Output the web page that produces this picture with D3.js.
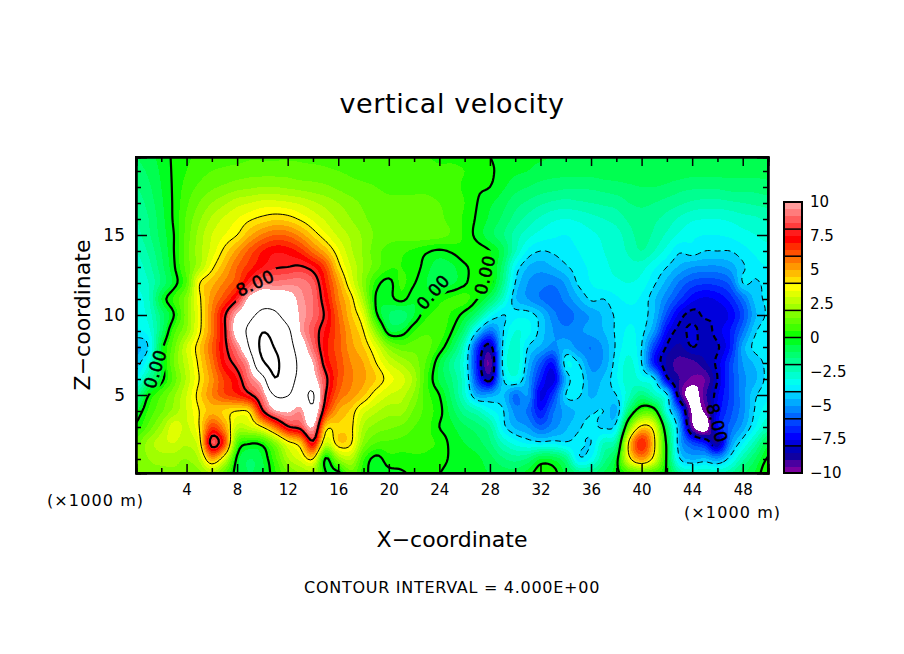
<!DOCTYPE html>
<html>
<head>
<meta charset="utf-8">
<script src="https://cdn.jsdelivr.net/npm/d3@7"></script>
<style>
  body { margin: 0; background: #fff; }
  text { font-family: "DejaVu Sans", sans-serif; fill: #000; }
</style>
</head>
<body>
<div id="chart"></div>
<script>
// vertical velocity, one row per km of height, x = 0..50 km
const z20 = [-1.0,-0.7,-0.3,0.1,0.4,0.6,0.7,0.8,0.8,0.9, 0.9,0.9,0.9,0.9,0.8,0.8,0.7,0.6,0.5,0.5, 0.5,0.5,0.5,0.5,0.4,0.4,0.3,0.2,0.0,-0.2, -0.3,-0.4,-0.4,-0.5,-0.5,-0.5,-0.5,-0.5,-0.5,-0.5, -0.5,-0.5,-0.5,-0.5,-0.5,-0.5,-0.5,-0.5,-0.5,-0.5,-0.5];
const z19 = [-1.2,-0.9,-0.4,0.1,0.5,0.8,1.0,1.1,1.2,1.3, 1.3,1.3,1.3,1.2,1.2,1.1,1.0,0.9,0.8,0.8, 0.7,0.7,0.7,0.7,0.6,0.6,0.5,0.3,0.1,-0.2, -0.4,-0.5,-0.7,-0.8,-0.8,-0.8,-0.8,-0.7,-0.7,-0.6, -0.6,-0.6,-0.7,-0.7,-0.8,-0.8,-0.8,-0.8,-0.8,-0.8,-0.8];
const z18 = [-1.5,-1.1,-0.5,0.1,0.7,1.1,1.4,1.6,1.8,1.9, 2.0,2.0,1.9,1.8,1.7,1.6,1.4,1.2,1.1,1.0, 0.9,0.9,0.9,0.9,0.8,0.7,0.4,0.1,0.0,-0.4, -0.8,-1.0,-1.2,-1.3,-1.4,-1.4,-1.4,-1.3,-1.2,-1.1, -1.0,-1.0,-1.1,-1.3,-1.4,-1.4,-1.4,-1.3,-1.3,-1.3,-1.2];
const z17 = [-1.8,-1.3,-0.6,0.1,0.9,1.5,2.0,2.4,2.8,3.0, 3.2,3.2,3.1,2.9,2.6,2.3,2.0,1.7,1.4,1.2, 1.1,1.1,1.1,1.1,1.0,0.8,0.5,0.0,-0.4,-0.8, -1.3,-1.6,-1.9,-2.1,-2.2,-2.1,-2.0,-1.9,-1.8,-1.5, -1.4,-1.5,-1.7,-1.9,-2.1,-2.2,-2.2,-2.1,-2.0,-1.9,-1.8];
const z16 = [-2.0,-1.5,-0.7,0.1,1.1,1.9,2.6,3.1,3.5,3.9, 4.2,4.4,4.3,3.9,3.4,2.9,2.4,2.0,1.6,1.3, 1.2,1.2,1.2,1.2,1.1,0.8,0.4,-0.1,-0.6,-1.1, -1.7,-2.2,-2.6,-2.9,-3.0,-2.9,-2.7,-2.5,-2.3,-1.9, -1.7,-1.9,-2.2,-2.6,-2.9,-3.0,-3.0,-2.9,-2.7,-2.6,-2.4];
const z15 = [-2.2,-1.6,-0.8,0.0,1.2,2.2,3.0,3.5,4.0,4.9, 5.6,6.0,5.9,5.3,4.4,3.6,2.9,2.4,1.9,1.4, 1.2,1.2,1.3,1.3,1.2,0.9,0.4,-0.2,-0.8,-1.4, -2.2,-2.8,-3.2,-3.4,-3.5,-3.3,-3.1,-2.9,-2.7,-2.2, -1.8,-2.1,-2.6,-3.1,-3.4,-3.5,-3.5,-3.4,-3.2,-3.0,-2.8];
const z14 = [-2.5,-1.9,-1.0,0.0,1.3,2.3,3.2,4.2,5.2,6.2, 7.0,7.4,7.3,6.8,5.8,4.8,3.6,2.6,1.9,1.2, 0.8,0.6,0.4,0.1,-0.1,0.1,0.4,0.3,0.0,-0.8, -2.4,-3.6,-4.0,-3.9,-3.7,-3.5,-3.2,-3.0,-2.8,-2.4, -2.0,-2.5,-3.2,-3.9,-3.7,-4.0,-4.0,-4.0,-3.7,-3.4,-3.2];
const z13 = [-2.8,-2.2,-1.2,-0.1,1.2,2.4,3.8,4.9,6.0,6.8, 7.5,7.9,8.0,8.1,7.6,6.4,4.3,3.0,2.0,1.2, 0.6,0.5,0.3,-0.3,-0.8,-0.6,-0.1,0.2,0.1,-1.2, -3.5,-4.5,-4.8,-4.5,-4.1,-3.7,-3.4,-3.1,-2.9,-2.7, -2.8,-3.4,-4.0,-4.6,-5.0,-5.1,-5.1,-4.8,-4.1,-3.7,-3.5];
const z12 = [-3.0,-2.5,-1.4,-0.3,1.0,3.9,4.8,5.6,6.4,8.0, 9.2,9.2,9.3,9.3,8.7,7.0,5.2,3.4,1.8,0.3, -0.2,0.6,0.05,-0.5,-0.8,-0.6,-0.1,0.4,0.2,-1.6, -4.0,-5.0,-5.3,-5.4,-4.9,-3.9,-3.5,-3.2,-3.1,-3.0, -3.2,-3.9,-4.7,-5.6,-6.2,-6.4,-6.3,-5.8,-4.0,-4.1,-3.8];
const z11 = [-3.2,-2.6,-0.5,0.6,1.8,3.8,5.3,6.4,7.9,10.4, 11.2,11.0,10.6,9.7,9.0,7.4,5.6,4.3,2.3,-0.1, -0.2,0.2,-0.4,-0.3,0.3,0.6,0.7,0.0,-1.0,-2.6, -4.4,-5.0,-5.5,-5.8,-5.3,-4.6,-3.9,-4.0,-3.6,-3.4, -3.6,-4.4,-5.4,-6.4,-7.3,-7.6,-7.4,-6.8,-5.6,-4.3,-3.9];
const z10 = [-3.4,-2.8,-1.3,0.0,1.8,3.7,5.6,7.8,10.2,11.4, 12.6,12.4,11.0,9.9,9.0,7.8,6.0,4.6,3.3,0.2, -1.0,-1.3,-0.5,0.4,0.7,0.4,-0.3,-1.4,-3.2,-4.0, -3.7,-3.7,-4.3,-5.3,-5.8,-5.3,-4.9,-4.4,-3.9,-3.6, -3.7,-4.5,-6.2,-7.7,-8.2,-7.9,-7.9,-7.4,-6.2,-4.6,-3.9];
const z9 = [-3.6,-3.2,-1.2,0.8,2.0,3.8,5.6,7.8,10.8,12.6, 15.8,14.5,12.5,10.0,8.6,7.4,6.2,5.0,4.0,1.8, -0.4,-0.4,0.5,0.9,0.8,0.0,-1.4,-4.0,-5.6,-4.1, -3.0,-3.3,-4.2,-5.0,-5.3,-5.1,-4.8,-4.5,-3.9,-3.4, -3.8,-5.0,-7.3,-8.2,-7.8,-8.3,-7.7,-7.0,-5.6,-4.1,-3.7];
const z8 = [-4.6,-3.9,-0.4,1.3,3.0,4.4,6.0,7.7,9.4,12.2, 16.8,15.8,13.0,11.0,9.0,7.2,6.2,5.2,4.5,3.3, 1.8,1.2,1.3,1.2,0.4,-0.8,-2.8,-6.5,-8.4,-4.0, -2.7,-4.0,-4.6,-5.2,-4.6,-5.2,-5.5,-4.9,-3.9,-3.2, -4.0,-6.4,-8.1,-8.6,-8.0,-8.3,-8.1,-7.0,-4.8,-3.8,-3.7];
const z7 = [-4.3,-3.0,-0.4,1.5,2.8,4.2,5.7,7.4,8.4,10.2, 15.4,16.8,13.5,11.5,10.0,7.5,6.4,5.5,5.0,4.0, 3.0,2.4,1.8,0.9,-0.5,-1.8,-3.2,-7.0,-9.5,-3.9, -2.6,-4.4,-6.0,-7.0,-3.6,-4.0,-5.2,-4.9,-3.7,-2.8, -4.0,-7.0,-8.6,-9.2,-9.2,-8.6,-7.8,-6.4,-5.0,-4.4,-3.8];
const z6 = [-3.5,-1.8,-0.3,1.2,2.6,4.0,5.3,6.6,7.5,9.2, 11.0,15.8,13.0,11.5,10.6,8.3,6.4,5.6,5.1,4.5, 3.7,3.2,2.3,0.6,-0.6,-1.5,-3.0,-6.5,-8.4,-4.2, -3.2,-4.8,-6.8,-7.8,-4.6,-3.6,-4.8,-4.4,-3.6,-2.6, -3.2,-3.9,-7.7,-9.0,-9.6,-9.5,-8.0,-6.4,-5.2,-4.6,-3.8];
const z5 = [-1.8,0.0,1.0,1.9,3.0,4.3,5.5,6.4,6.9,7.8, 9.3,12.2,12.1,11.0,12.2,8.0,6.0,5.3,4.6,3.6, 3.0,2.7,1.9,0.7,0.0,-1.2,-2.8,-4.8,-4.8,-4.4, -5.6,-5.0,-7.6,-6.5,-4.0,-3.9,-4.6,-4.2,-4.0,-2.6, -1.5,-2.5,-3.8,-8.8,-10.6,-9.2,-7.6,-6.4,-5.2,-4.1,-3.6];
const z4 = [-0.5,0.6,1.4,2.2,3.0,4.0,4.8,4.4,4.0,4.3, 7.8,9.8,10.2,9.6,11.5,7.0,5.0,4.4,3.2,2.6, 2.2,2.2,1.4,0.8,0.2,-0.8,-1.8,-2.4,-3.3,-3.9, -5.2,-5.6,-7.0,-5.6,-4.8,-4.4,-4.1,-4.0,-4.6,-1.2, 0.8,0.5,-3.2,-6.0,-10.2,-9.8,-7.4,-6.2,-5.2,-3.9,-3.2];
const z3 = [0.2,1.2,2.2,3.3,2.9,4.0,6.5,5.2,2.8,3.0, 4.0,5.8,7.8,8.4,10.0,4.5,4.4,4.2,2.4,1.8, 1.6,1.4,1.0,0.7,0.0,-0.4,-0.9,-1.3,-1.9,-3.7, -4.6,-5.0,-5.8,-5.2,-4.6,-4.1,-3.8,-4.1,-3.6,1.5, 4.3,3.4,-1.2,-4.8,-9.6,-10.8,-7.2,-5.8,-4.8,-3.5,-2.4];
const z2 = [1.3,2.2,2.8,3.0,2.6,3.5,8.5,6.5,1.0,0.1, 0.3,1.8,3.6,4.6,7.6,3.0,4.4,4.1,1.8,1.0, 0.9,0.8,0.7,0.6,0.4,-0.2,-0.5,-0.8,-1.4,-2.5, -3.2,-3.6,-3.8,-3.7,-3.9,-3.8,-4.0,-2.5,-1.8,4.2, 7.0,4.2,-0.3,-4.6,-6.2,-7.0,-8.6,-5.2,-3.6,-2.2,-0.7];
const z1 = [1.6,2.0,2.2,2.2,2.0,2.6,5.0,3.2,-0.2,-1.0, -0.5,0.8,2.4,3.2,4.0,-0.1,2.0,2.6,0.6,-0.2, 0.3,0.3,0.4,0.4,0.2,-0.1,-0.3,-0.4,-0.8,-1.4, -1.7,-1.4,-0.5,-0.6,-1.5,-3.8,-3.4,-1.8,-0.4,3.6, 5.2,3.5,-0.2,-3.9,-4.6,-4.4,-4.9,-3.7,-2.2,-1.0,0.1];
const z0 = [1.5,1.8,1.8,1.9,1.8,1.8,2.2,1.0,-0.4,-1.0, -0.6,0.4,1.4,1.9,2.0,0.1,-0.4,1.2,0.2,-0.2, -0.2,-0.1,0.1,0.2,0.0,-0.2,-0.3,-0.4,-0.5,-0.7, -0.7,-0.2,0.4,0.3,-0.6,-1.4,-1.5,-0.9,-0.2,0.4, 0.8,0.4,-0.1,-1.9,-2.4,-2.4,-2.4,-2.0,-1.0,-0.4,0.6];

const rows = [z20, z19, z18, z17, z16, z15, z14, z13, z12, z11, z10, z9, z8, z7, z6, z5, z4, z3, z2, z1, z0];

// one swatch per 0.5, bottom of the scale first
const swatches = [
  "#7a00a0","#4a00a0","#1000a0","#0000bb",
  "#0000dd","#0000ff","#0022ff","#0044ff",
  "#0066ff","#0088ff","#00aaff","#00ccff",
  "#00f0ff","#00ffef","#00ffd0","#00ffb0",
  "#00ff90","#00ff70","#00ff50","#00ff20",
  "#10ff00","#40ff00","#60ff00","#80ff00",
  "#a0ff00","#c0ff00","#e0ff00","#ffff00",
  "#ffe000","#ffbc00","#ff9800","#ff7400",
  "#ff5000","#ff2c00","#ff0000","#ff1c1c",
  "#ff3c3c","#ff5c5c","#ff7c7c","#ff9c9c"
];
const contourLevels = [-8, -4, 0, 4, 8, 12, 16];
const thickLevels = [-8, 0, 8, 16];
const xMajor = [4, 8, 12, 16, 20, 24, 28, 32, 36, 40, 44, 48];
const xMinor = [2, 6, 10, 14, 18, 22, 26, 30, 34, 38, 42, 46];
const zMajor = [5, 10, 15];
const zMinor = [1, 2, 3, 4, 6, 7, 8, 9, 11, 12, 13, 14, 16, 17, 18, 19];
const barTicks = [-10, -7.5, -5, -2.5, 0, 2.5, 5, 7.5, 10];
const lineLabels = [
  { text: "0.00", x: 155, y: 369, angle: -72 },
  { text: "8.00", x: 255, y: 283, angle: -25 },
  { text: "0.00", x: 433, y: 292, angle: -48 },
  { text: "0.00", x: 485, y: 275, angle: -76 },
  { text: "8.00", x: 717, y: 423, angle: 75 }
];

const width = 904;
const height = 654;
const plot = { left: 136, right: 768, top: 157, bottom: 473 };

const svg = d3.select("#chart").append("svg")
  .attr("width", width)
  .attr("height", height)
  .style("display", "block");

const x = d3.scaleLinear().domain([0, 50]).range([plot.left, plot.right]);
const z = d3.scaleLinear().domain([0.125, 19.875]).range([plot.bottom, plot.top]);

// catmull-rom resample of the rows, only so the contour lines come out round
const fine = 5;
function spline(p0, p1, p2, p3, t) {
  return 0.5 * (2 * p1 + (p2 - p0) * t + (2 * p0 - 5 * p1 + 4 * p2 - p3) * t * t + (3 * p1 - p0 - 3 * p2 + p3) * t * t * t);
}
function resample(line) {
  const out = [];
  for (let i = 0; i < line.length - 1; i++) {
    const p0 = line[Math.max(i - 1, 0)], p1 = line[i], p2 = line[i + 1], p3 = line[Math.min(i + 2, line.length - 1)];
    for (let k = 0; k < fine; k++) out.push(spline(p0, p1, p2, p3, k / fine));
  }
  out.push(line[line.length - 1]);
  return out;
}
const wide = rows.map(resample);
const nx = wide[0].length;
const columns = d3.range(nx).map(i => resample(wide.map(r => r[i])));
const ny = columns[0].length;
const grid = [];
for (let j = 0; j < ny; j++) for (let i = 0; i < nx; i++) grid.push(columns[i][j]);

// d3.contours puts samples at cell centres, so pull back by half a cell
const toPixels = d3.geoTransform({
  point(px, py) {
    this.stream.point(x((px - 0.5) / fine), z(20 - (py - 0.5) / fine));
  }
});
const path = d3.geoPath(toPixels);
const contours = d3.contours().size([nx, ny]);

const defs = svg.append("defs");
defs.append("clipPath").attr("id", "plot-clip").append("rect")
  .attr("x", plot.left).attr("y", plot.top)
  .attr("width", plot.right - plot.left).attr("height", plot.bottom - plot.top);

const mask = defs.append("mask").attr("id", "label-gaps")
  .attr("maskUnits", "userSpaceOnUse")
  .attr("x", 0).attr("y", 0).attr("width", width).attr("height", height);
mask.append("rect").attr("width", width).attr("height", height).attr("fill", "#fff");
mask.selectAll("rect.gap").data(lineLabels).join("rect")
  .attr("class", "gap")
  .attr("x", -25).attr("y", -10).attr("width", 50).attr("height", 20)
  .attr("fill", "#000")
  .attr("transform", d => `translate(${d.x},${d.y}) rotate(${d.angle})`);

const field = svg.append("g").attr("clip-path", "url(#plot-clip)");

field.append("rect")
  .attr("x", plot.left).attr("y", plot.top)
  .attr("width", plot.right - plot.left).attr("height", plot.bottom - plot.top)
  .attr("fill", "#fff");

const fillLevels = swatches.map((c, i) => -10 + i * 0.5);
field.append("g").selectAll("path")
  .data(fillLevels.map((t, i) => ({ t, color: swatches[i] })))
  .join("path")
  .attr("d", d => path(contours.thresholds([d.t])(grid)[0]))
  .attr("fill", d => d.color)
  .attr("shape-rendering", "crispEdges");

// white above the top of the scale
field.append("path")
  .attr("d", path(contours.thresholds([10])(grid)[0]))
  .attr("fill", "#fff")
  .attr("shape-rendering", "crispEdges");

field.append("g").attr("mask", "url(#label-gaps)").selectAll("path")
  .data(contourLevels)
  .join("path")
  .attr("d", t => path(contours.thresholds([t])(grid)[0]))
  .attr("fill", "none")
  .attr("stroke", "#000")
  .attr("stroke-width", t => thickLevels.includes(t) ? 2.2 : 1)
  .attr("stroke-dasharray", t => t < 0 ? "6,4" : null);

svg.append("g").selectAll("text")
  .data(lineLabels)
  .join("text")
  .attr("transform", d => `translate(${d.x},${d.y}) rotate(${d.angle})`)
  .attr("text-anchor", "middle")
  .attr("dy", "0.36em")
  .attr("font-size", 17)
  .attr("letter-spacing", 0.5)
  .attr("stroke", "#000")
  .attr("stroke-width", 0.5)
  .text(d => d.text);

// ticks point inward on all four sides
function ticks(axis, values, size) {
  return axis.tickValues(values).tickSize(size).tickFormat("");
}
function frameAxis(g) {
  g.select(".domain").attr("stroke-width", 2);
  g.selectAll(".tick line").attr("stroke", "#000").attr("stroke-width", 1.5);
}

const bottomG = svg.append("g").attr("transform", `translate(0,${plot.bottom})`);
bottomG.append("g").call(ticks(d3.axisBottom(x), xMinor, -5)).call(frameAxis);
bottomG.append("g").call(d3.axisBottom(x).tickValues(xMajor).tickSize(-9).tickPadding(11)
  .tickFormat(d => d)).call(frameAxis)
  .selectAll("text").attr("font-size", 15).style("font-family", "DejaVu Sans");

const topG = svg.append("g").attr("transform", `translate(0,${plot.top})`);
topG.append("g").call(ticks(d3.axisTop(x), xMinor, -5)).call(frameAxis);
topG.append("g").call(ticks(d3.axisTop(x), xMajor, -9)).call(frameAxis);

const leftG = svg.append("g").attr("transform", `translate(${plot.left},0)`);
leftG.append("g").call(ticks(d3.axisLeft(z), zMinor, -5)).call(frameAxis);
leftG.append("g").call(d3.axisLeft(z).tickValues(zMajor).tickSize(-11).tickPadding(11)
  .tickFormat(d => d)).call(frameAxis)
  .selectAll("text").attr("font-size", 17).style("font-family", "DejaVu Sans");

const rightG = svg.append("g").attr("transform", `translate(${plot.right},0)`);
rightG.append("g").call(ticks(d3.axisRight(z), zMinor, -5)).call(frameAxis);
rightG.append("g").call(ticks(d3.axisRight(z), zMajor, -11)).call(frameAxis);

// axis end lines run the whole side of the frame
svg.append("rect")
  .attr("x", plot.left).attr("y", plot.top)
  .attr("width", plot.right - plot.left).attr("height", plot.bottom - plot.top)
  .attr("fill", "none").attr("stroke", "#000").attr("stroke-width", 2);

// colour bar
const bar = { left: 784, right: 802, top: 202, bottom: 473 };
const barScale = d3.scaleLinear().domain([-10, 10]).range([bar.bottom, bar.top]);
svg.append("g").selectAll("rect")
  .data(fillLevels.map((t, i) => ({ t, color: swatches[i] })))
  .join("rect")
  .attr("x", bar.left)
  .attr("width", bar.right - bar.left)
  .attr("y", d => barScale(d.t + 0.5))
  .attr("height", d => barScale(d.t) - barScale(d.t + 0.5) + 0.5)
  .attr("fill", d => d.color)
  .attr("shape-rendering", "crispEdges");
svg.append("g").selectAll("line")
  .data(d3.range(-8, 10, 2))
  .join("line")
  .attr("x1", bar.left).attr("x2", bar.right)
  .attr("y1", d => barScale(d)).attr("y2", d => barScale(d))
  .attr("stroke", "#000").attr("stroke-width", 1.5);
svg.append("rect")
  .attr("x", bar.left).attr("y", bar.top)
  .attr("width", bar.right - bar.left).attr("height", bar.bottom - bar.top)
  .attr("fill", "none").attr("stroke", "#000").attr("stroke-width", 2);

const barAxis = svg.append("g")
  .attr("transform", `translate(${bar.right},0)`)
  .call(d3.axisRight(barScale).tickValues(barTicks).tickSize(0).tickPadding(8)
    .tickFormat(d => String(d).replace("-", "\u2212")));
barAxis.select(".domain").remove();
barAxis.selectAll("text").attr("font-size", 15).style("font-family", "DejaVu Sans");

function label(txt, px, py, size, anchor, rotate, spacing) {
  svg.append("text")
    .attr("transform", `translate(${px},${py})` + (rotate ? ` rotate(${rotate})` : ""))
    .attr("text-anchor", anchor)
    .attr("font-size", size)
    .attr("letter-spacing", spacing || 0)
    .text(txt);
}

label("vertical velocity", 452, 113, 27, "middle", 0, 0.6);
label("Z\u2212coordinate", 90, 315, 22, "middle", -90, 0);
label("X\u2212coordinate", 452, 547, 22, "middle", 0, 0);
label("(\u00d71000 m)", 47, 506, 16, "start", 0, 1.1);
label("(\u00d71000 m)", 684, 518, 16, "start", 0, 1.1);
label("CONTOUR INTERVAL = 4.000E+00", 304, 593, 16, "start", 0, 0.72);
</script>
</body>
</html>
